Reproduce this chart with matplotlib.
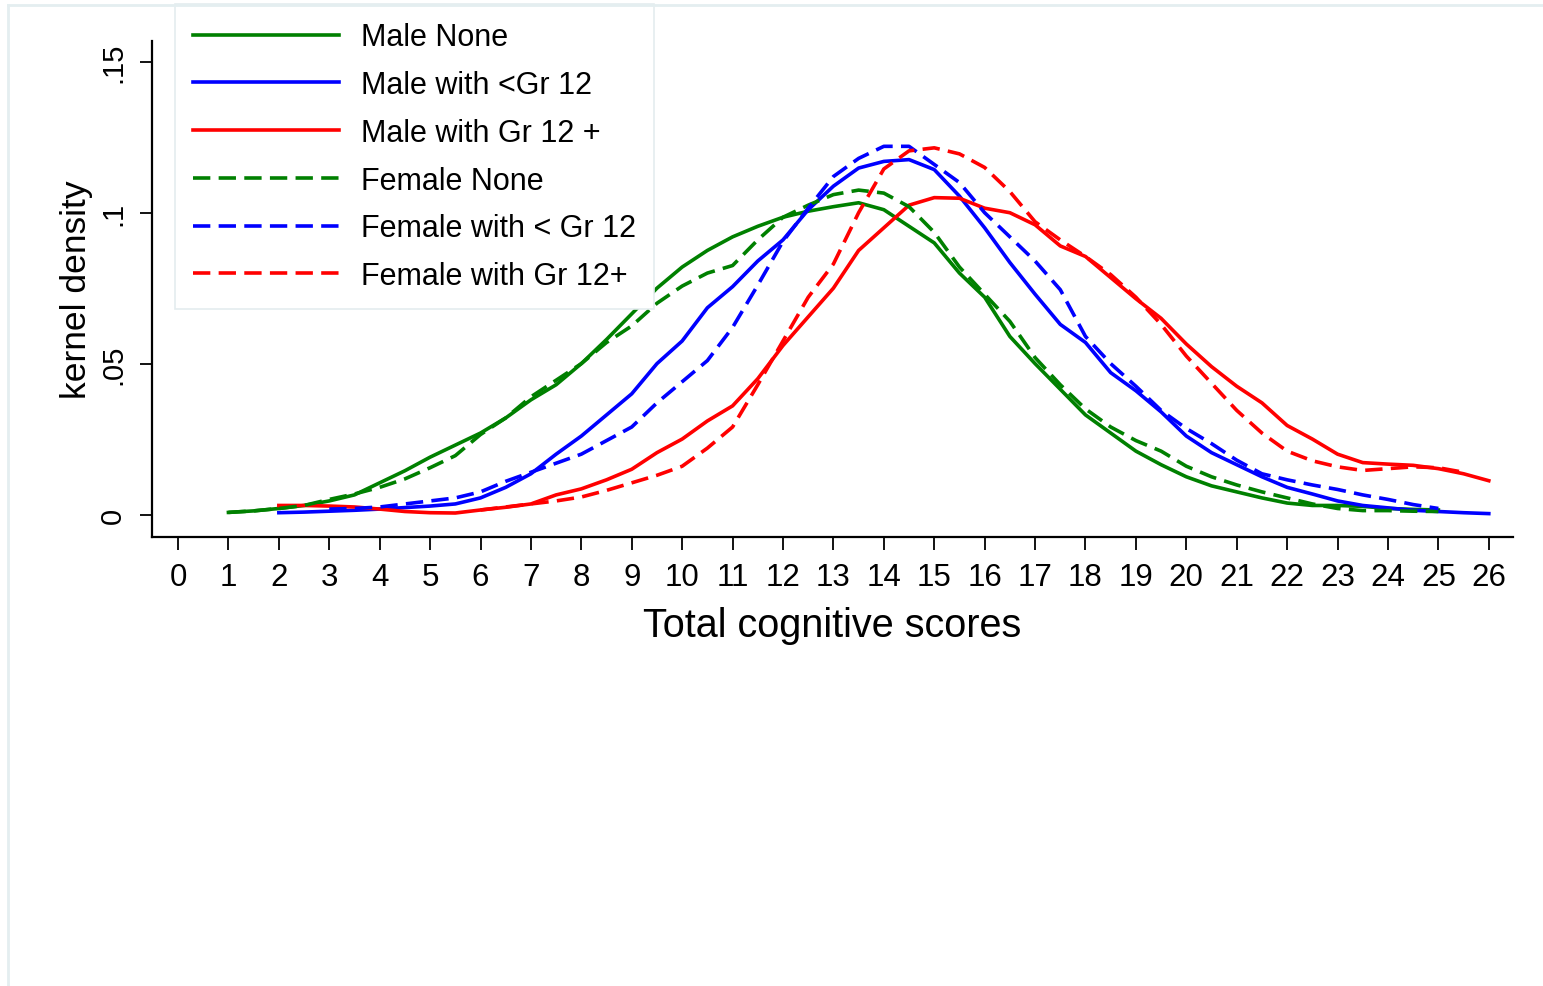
import matplotlib
matplotlib.use('Agg')
import matplotlib.pyplot as plt
from matplotlib.lines import Line2D

plt.rcParams['font.family'] = ['Liberation Sans', 'DejaVu Sans']

# kernel density estimates
x_male_none = [1, 1.5, 2, 2.5, 3, 3.5, 4, 4.5, 5, 5.5, 6, 6.5, 7, 7.5, 8, 8.5, 9, 9.5, 10, 10.5,
               11, 11.5, 12, 12.5, 13, 13.5, 14, 14.5, 15, 15.5, 16, 16.5, 17, 17.5, 18, 18.5,
               19, 19.5, 20, 20.5, 21, 21.5, 22, 22.5, 23, 23.5, 24, 24.5, 25]
male_none = [0.0007, 0.0012, 0.002, 0.003, 0.0045, 0.0065, 0.0105, 0.0145, 0.019, 0.023, 0.027,
             0.032, 0.038, 0.043, 0.050, 0.058, 0.0665, 0.075, 0.082, 0.0875, 0.092, 0.0955,
             0.0985, 0.1005, 0.102, 0.1033, 0.101, 0.0955, 0.090, 0.080, 0.072, 0.059, 0.050,
             0.0415, 0.033, 0.027, 0.021, 0.0165, 0.0125, 0.0095, 0.0075, 0.0055, 0.0038, 0.003,
             0.003, 0.0027, 0.002, 0.0017, 0.0015]

x_female_none = x_male_none
female_none = [0.0007, 0.0012, 0.002, 0.003, 0.005, 0.0068, 0.009, 0.0118, 0.0155, 0.0195, 0.0265,
               0.032, 0.039, 0.0445, 0.050, 0.057, 0.0625, 0.070, 0.0757, 0.080, 0.0825, 0.091,
               0.0985, 0.1025, 0.106, 0.1075, 0.1065, 0.102, 0.0935, 0.082, 0.073, 0.064, 0.052,
               0.043, 0.035, 0.029, 0.0245, 0.021, 0.016, 0.0125, 0.0098, 0.0075, 0.0055, 0.0035,
               0.002, 0.0013, 0.0013, 0.0011, 0.001]

x_male_lt12 = [2, 2.5, 3, 3.5, 4, 4.5, 5, 5.5, 6, 6.5, 7, 7.5, 8, 8.5, 9, 9.5, 10, 10.5, 11, 11.5,
               12, 12.5, 13, 13.5, 14, 14.5, 15, 15.5, 16, 16.5, 17, 17.5, 18, 18.5, 19, 19.5,
               20, 20.5, 21, 21.5, 22, 22.5, 23, 23.5, 24, 24.5, 25, 25.5, 26]
male_lt12 = [0.0006, 0.0008, 0.0011, 0.0014, 0.0018, 0.0023, 0.0028, 0.0035, 0.0055, 0.009, 0.0135,
             0.020, 0.026, 0.033, 0.040, 0.050, 0.0575, 0.0685, 0.0755, 0.084, 0.091, 0.101,
             0.1088, 0.1148, 0.117, 0.1176, 0.1143, 0.1055, 0.095, 0.0835, 0.073, 0.063, 0.057,
             0.047, 0.041, 0.034, 0.026, 0.0205, 0.0165, 0.0125, 0.009, 0.0068, 0.0045, 0.003,
             0.0022, 0.0014, 0.001, 0.0006, 0.0003]

x_female_lt12 = [3, 3.5, 4, 4.5, 5, 5.5, 6, 6.5, 7, 7.5, 8, 8.5, 9, 9.5, 10, 10.5, 11, 11.5, 12,
                 12.5, 13, 13.5, 14, 14.5, 15, 15.5, 16, 16.5, 17, 17.5, 18, 18.5, 19, 19.5, 20,
                 20.5, 21, 21.5, 22, 22.5, 23, 23.5, 24, 24.5, 25]
female_lt12 = [0.0018, 0.002, 0.0025, 0.0035, 0.0045, 0.0055, 0.0075, 0.011, 0.014, 0.017, 0.020,
               0.0245, 0.029, 0.037, 0.044, 0.051, 0.062, 0.076, 0.0905, 0.1015, 0.112, 0.118,
               0.122, 0.122, 0.116, 0.110, 0.100, 0.092, 0.084, 0.0745, 0.059, 0.050, 0.0425,
               0.0345, 0.0285, 0.0235, 0.018, 0.0135, 0.0115, 0.0098, 0.0083, 0.0065, 0.005,
               0.0033, 0.002]

x_male_gr12 = x_male_lt12
male_gr12 = [0.003, 0.003, 0.0028, 0.0025, 0.0018, 0.001, 0.0006, 0.0005, 0.0015, 0.0024, 0.0035,
             0.0065, 0.0085, 0.0115, 0.015, 0.0205, 0.025, 0.031, 0.036, 0.045, 0.056, 0.0655,
             0.075, 0.0875, 0.095, 0.1025, 0.105, 0.1048, 0.1015, 0.100, 0.096, 0.089, 0.0855,
             0.0785, 0.0715, 0.065, 0.0565, 0.049, 0.0425, 0.037, 0.0295, 0.025, 0.020, 0.0172,
             0.0167, 0.0163, 0.0152, 0.0135, 0.0112]

x_female_gr12 = [6, 6.5, 7, 7.5, 8, 8.5, 9, 9.5, 10, 10.5, 11, 11.5, 12, 12.5, 13, 13.5, 14, 14.5,
                 15, 15.5, 16, 16.5, 17, 17.5, 18, 18.5, 19, 19.5, 20, 20.5, 21, 21.5, 22, 22.5,
                 23, 23.5, 24, 24.5, 25, 25.5]
female_gr12 = [0.0015, 0.0025, 0.0035, 0.0045, 0.0058, 0.008, 0.0105, 0.013, 0.016, 0.022, 0.029,
               0.043, 0.0575, 0.072, 0.083, 0.100, 0.1145, 0.1205, 0.1215, 0.1195, 0.115, 0.107,
               0.097, 0.091, 0.0855, 0.0795, 0.072, 0.063, 0.0525, 0.0435, 0.0345, 0.027, 0.021,
               0.0178, 0.0158, 0.0146, 0.0152, 0.0158, 0.0155, 0.014]

x_ticks = list(range(0, 27))
y_ticks = [0, 0.05, 0.1, 0.15]
y_tick_labels = ['0', '.05', '.1', '.15']

fig = plt.figure(figsize=(15.43, 9.87), dpi=100)
ax = fig.add_axes([152/1543, 1 - 538/987, (1513-152)/1543, (538-42)/987])

lw = 2.6
dash = (4.8, 2.3)
ax.plot(x_male_none, male_none, color='#008000', lw=lw, label='Male None')
ax.plot(x_male_lt12, male_lt12, color='#0000ff', lw=lw, label='Male with <Gr 12')
ax.plot(x_male_gr12, male_gr12, color='#ff0000', lw=lw, label='Male with Gr 12 +')
ax.plot(x_female_none, female_none, color='#008000', lw=lw, dashes=dash, label='Female None')
ax.plot(x_female_lt12, female_lt12, color='#0000ff', lw=lw, dashes=dash, label='Female with < Gr 12')
ax.plot(x_female_gr12, female_gr12, color='#ff0000', lw=lw, dashes=dash, label='Female with Gr 12+')

ax.set_xlim(-0.516, 26.48)
ax.set_ylim(-0.00745, 0.1569)
ax.set_xticks(x_ticks)
ax.set_yticks(y_ticks)
ax.set_yticklabels(y_tick_labels, rotation=90, va='center')
ax.tick_params(axis='x', labelsize=22.5, length=9, width=1.3, pad=9)
ax.tick_params(axis='y', labelsize=21, length=9, width=1.3, pad=9)
for s in ['top', 'right']:
    ax.spines[s].set_visible(False)
for s in ['left', 'bottom']:
    ax.spines[s].set_linewidth(1.6)

ax.set_xlabel('Total cognitive scores', fontsize=28.5, labelpad=10)
ax.set_ylabel('kernel density', fontsize=25.5, labelpad=4)

leg = ax.legend(loc='upper left', bbox_to_anchor=(175/1543, 1 - 5/987), bbox_transform=fig.transFigure,
                borderaxespad=0, fontsize=22, handlelength=4.77, handletextpad=0.72,
                labelspacing=0.58, borderpad=0.6, frameon=True, fancybox=False, framealpha=1)
leg.get_frame().set_edgecolor('#e4ecef')
leg.get_frame().set_linewidth(1.2)

# light outer border of the graph region
fig.add_artist(Line2D([8/1543, 1], [1 - 6/987, 1 - 6/987], transform=fig.transFigure, color='#e4eef0', lw=2))
fig.add_artist(Line2D([8/1543, 8/1543], [0, 1 - 6/987], transform=fig.transFigure, color='#e4eef0', lw=2))

fig.savefig('out.png', dpi=100)
